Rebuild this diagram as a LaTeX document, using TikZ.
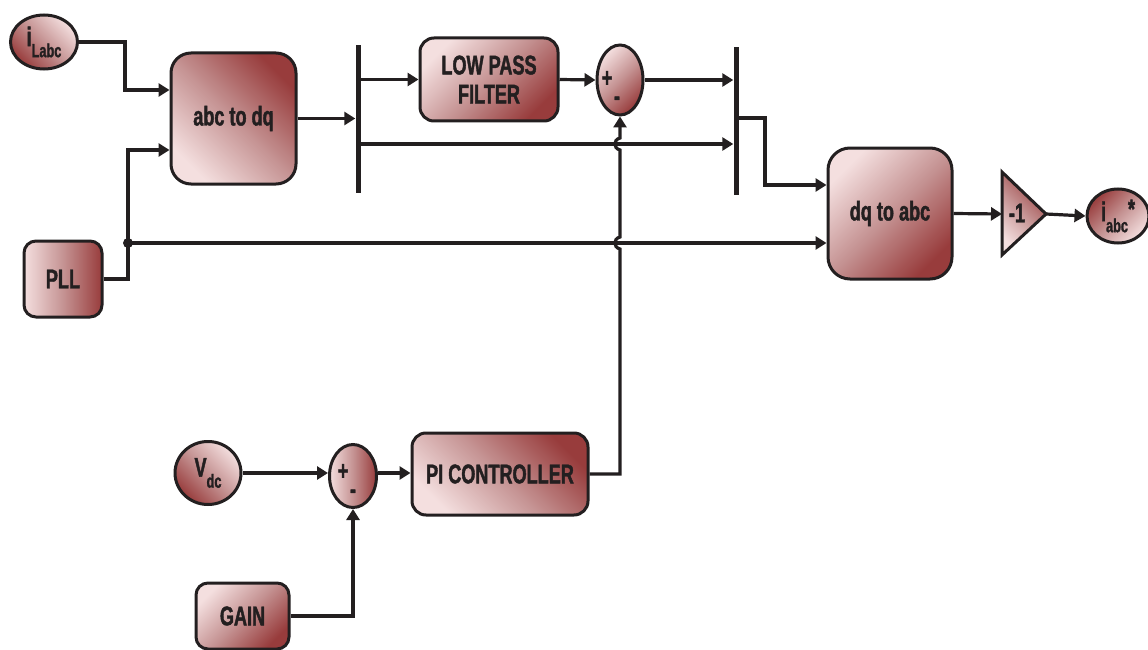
\documentclass[tikz,border=0pt]{standalone}
\usepackage{fontspec}
\newfontfamily\lab{Liberation Sans}[FakeStretch=0.67, BoldFeatures={FakeStretch=0.67, FakeBold=1.5}]
\usetikzlibrary{arrows.meta,shapes.geometric,calc}
\definecolor{ink}{HTML}{231F20}
\definecolor{rdark}{HTML}{983C3C}
\definecolor{rmid}{HTML}{C59393}
\definecolor{rlight}{HTML}{F4DFDF}
\tikzset{
  shd/.style={shading=axis, top color=rdark, bottom color=rlight, middle color=rmid, shading angle=#1},
  lbl/.style={font=\lab\bfseries\fontsize{27}{29}\selectfont, text=ink},
  blk/.style={draw=ink, line width=3pt, rounded corners=#1, inner sep=0pt, lbl, align=center},
  ell/.style={ellipse, draw=ink, line width=3pt, inner sep=0pt, lbl},
  bar/.style={fill=ink, inner sep=0pt, minimum width=5pt},
  wire/.style={draw=ink, line width=3.2pt},
  arr/.style={wire, -{Triangle[length=11pt,width=13pt]}},
  sgn/.style={lbl, inner sep=0pt},
}
\newcommand{\sbs}[1]{\raisebox{-11pt}{\fontsize{19}{19}\selectfont #1}}
\begin{document}
\begin{tikzpicture}[x=1pt,y=-1pt]
\useasboundingbox (0,0) rectangle (1148,650);
% blocks
\node[ell, shd=135, minimum width=67pt, minimum height=54pt] (il) at (44,42) {i\sbs{Labc}};
\node[blk=20pt, shd=-45, minimum width=125pt, minimum height=131pt] (abc) at (233.5,118.5) {abc to dq};
\node[blk=12pt, shd=-90, minimum width=78pt, minimum height=76pt] (pll) at (63,279) {PLL};
\node[bar, minimum height=148pt] (b1) at (358,119) {};
\node[blk=14pt, shd=-135, minimum width=138pt, minimum height=83pt] (lpf) at (489,79.5) {LOW PASS\\FILTER};
\node[ell, shd=-135, minimum width=46pt, minimum height=70pt] (s1) at (620,80) {};
\node[sgn] (s1p) at (607,79) {+};
\node[sgn] (s1m) at (617,101) {-};
\node[bar, minimum height=148pt] (b2) at (736,121) {};
\node[blk=22pt, shd=-135, minimum width=124pt, minimum height=131pt] (dq) at (890,213.5) {dq to abc};
\path[shd=-45, draw=ink, line width=3pt, line join=miter] (1002,172) -- (1046,214) -- (1002,255) -- cycle;
\coordinate (gw) at (1002,214);
\coordinate (ge) at (1046,214);
\node[sgn] (gtxt) at (1017,213) {-1};
\node[ell, shd=45, minimum width=62pt, minimum height=54pt] (io) at (1118,216) {i\sbs{abc}\raisebox{3pt}{*}};
\node[ell, shd=135, minimum width=66pt, minimum height=63pt] (vdc) at (208,473) {V\sbs{dc}};
\node[ell, shd=-90, minimum width=47pt, minimum height=63pt] (s2) at (353,476) {};
\node[sgn] (s2p) at (343,472) {+};
\node[sgn] (s2m) at (353,494) {-};
\node[blk=14pt, shd=-45, minimum width=176pt, minimum height=82pt] (pi) at (500,474) {PI CONTROLLER};
\node[blk=12pt, shd=-135, minimum width=93pt, minimum height=66pt] (gain) at (242.5,616) {GAIN};
% named ports
\coordinate (abcin1) at (abc.west |- 0,90);
\coordinate (abcin2) at (abc.west |- 0,150);
\coordinate (dqin1) at (dq.west |- 0,185);
\coordinate (dqin2) at (dq.west |- 0,243);
\coordinate (jn) at (128,243);
\coordinate (h1) at (s1.south |- 0,243);
\coordinate (h2) at (s1.south |- 0,144);
% connectors
\draw[arr] (il.east) -| (125,90) -- (abcin1);
\draw[wire] (pll.east) -| (jn);
\draw[arr] (jn) |- (abcin2);
\draw[arr] (jn) -- (dqin2);
\fill[ink] (jn) circle (5pt);
\draw[arr] (abc.east) -- (abc.east -| b1.west);
\draw[arr] (b1.east |- lpf.west) -- (lpf.west);
\draw[arr] (lpf.east) -- (s1.west);
\draw[arr] (s1.east) -- (s1.east -| b2.west);
\draw[arr] (b1.east |- 0,144) -- (b2.west |- 0,144);
\draw[arr] (b2.east |- 0,118) -- (765,118) |- (dqin1);
\draw[arr] (dq.east) -- (gw);
\draw[arr] (ge) -- (io.west);
\draw[arr] (vdc.east) -- (vdc.east -| s2.west);
\draw[arr] (s2.east |- vdc.east) -- (s2.east |- vdc.east -| pi.west);
\draw[arr] (gain.east) -| (s2.south);
\draw[arr] (pi.east) -| ($(h1)+(0,6)$) .. controls +(-7,-2) and +(-7,2) .. ($(h1)+(0,-6)$) -- ($(h2)+(0,6)$) .. controls +(-7,-2) and +(-7,2) .. ($(h2)+(0,-6)$) -- (s1.south);
\end{tikzpicture}
\end{document}
